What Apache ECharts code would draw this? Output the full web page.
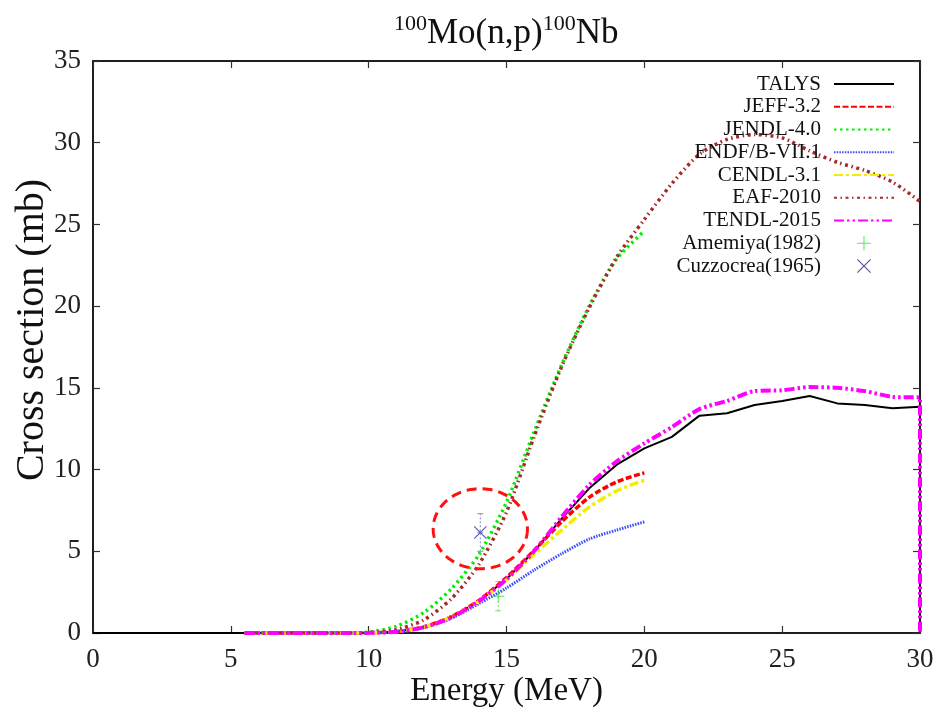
<!DOCTYPE html>
<html>
<head>
<meta charset="utf-8">
<script src="https://cdn.jsdelivr.net/npm/echarts@6/dist/echarts.min.js"></script>
<style>
  html, body { margin: 0; padding: 0; background: #fff; }
  #chart { width: 938px; height: 711px; }
</style>
</head>
<body>
<div id="chart"></div>
<script>
// ---------------- data ----------------
const xTicks = [0, 5, 10, 15, 20, 25, 30];
const yTicks = [0, 5, 10, 15, 20, 25, 30, 35];

const lineNames = ['TALYS', 'JEFF-3.2', 'JENDL-4.0', 'ENDF/B-VII.1', 'CENDL-3.1', 'EAF-2010', 'TENDL-2015'];
const pointNames = ['Amemiya(1982)', 'Cuzzocrea(1965)'];

const talysE  = [0, 1, 2, 3, 4, 5, 6, 7, 8, 9, 10, 11, 12, 13, 14, 15, 16, 17, 18, 19, 20, 21, 22, 23, 24, 25, 26, 27, 28, 29, 30];
const talysXS = [0, 0, 0, 0, 0, 0, 0, 0, 0, 0, 0.01, 0.08, 0.35, 0.95, 1.95, 3.3, 5.0, 7.0, 8.85, 10.3, 11.3, 12.0, 13.3, 13.45, 13.95, 14.2, 14.5, 14.05, 13.95, 13.75, 13.85];

const evalE20 = [5.5, 6, 7, 8, 9, 10, 11, 12, 13, 14, 15, 16, 17, 18, 19, 20];
const jeffXS  = [0, 0, 0, 0, 0, 0.01, 0.08, 0.38, 1.0, 2.0, 3.4, 5.05, 6.8, 8.3, 9.25, 9.8];
const jendlXS = [0, 0, 0, 0, 0, 0.05, 0.4, 1.25, 2.7, 4.8, 8.0, 12.3, 16.4, 20.0, 22.9, 24.6];
const endfXS  = [0, 0, 0, 0, 0, 0.01, 0.06, 0.32, 0.9, 1.8, 2.75, 3.85, 4.85, 5.75, 6.3, 6.8];
const cendlXS = [0, 0, 0, 0, 0, 0.01, 0.07, 0.36, 1.0, 1.95, 3.25, 4.8, 6.3, 7.7, 8.7, 9.35];

const evalE30 = [5.5, 6, 7, 8, 9, 10, 11, 12, 13, 14, 15, 16, 17, 18, 19, 20, 21, 22, 23, 24, 25, 26, 27, 28, 29, 30];
const eafXS   = [0, 0, 0, 0, 0, 0.02, 0.2, 0.8, 2.1, 4.2, 7.4, 12.0, 16.3, 19.9, 23.0, 25.3, 27.5, 29.3, 30.2, 30.5, 30.3, 29.5, 28.8, 28.3, 27.6, 26.4];

const tendlE  = [5.5, 6, 7, 8, 9, 10, 11, 12, 13, 14, 15, 16, 17, 18, 19, 20, 21, 22, 23, 24, 25, 26, 27, 28, 29, 30, 30];
const tendlXS = [0, 0, 0, 0, 0, 0.01, 0.07, 0.35, 0.95, 1.95, 3.3, 5.0, 7.1, 9.05, 10.5, 11.6, 12.6, 13.7, 14.2, 14.8, 14.85, 15.05, 15.0, 14.8, 14.45, 14.4, 0];

// experimental points: energy, cross section, d(xs), d(E)
const amemiyaE = [14.7];
const amemiyaXS = [2.25];
const amemiyaErr = [0.9];
const amemiyaEErr = [0.15];

const cuzzoE = [14.05];
const cuzzoXS = [6.15];
const cuzzoErr = [1.15];
const cuzzoEErr = [0.1];

// highlight ellipse annotation (data units): centre E, centre XS, half-width E, half-height XS
const ringCentre = [14.05, 6.38];
const ringRadii = [1.71, 2.45];

// ---------------- build ----------------
const zip = (a, b) => a.map((v, i) => [v, b[i]]);
const serif = '"Liberation Serif", "Times New Roman", serif';

const plusPath = 'path://M4.6,0H5.4V4.6H10V5.4H5.4V10H4.6V5.4H0V4.6H4.6Z';
const crossPath = 'path://M0,0.6L0.6,0L5,4.4L9.4,0L10,0.6L5.6,5L10,9.4L9.4,10L5,5.6L0.6,10L0,9.4L4.4,5Z';

function lineSeries(name, e, xs, color, width, dash, smooth) {
  return {
    name: name, type: 'line', data: zip(e, xs),
    showSymbol: false, symbol: 'none', smooth: smooth,
    lineStyle: { color: color, width: width, type: dash, cap: 'butt' },
    itemStyle: { color: color },
    emphasis: { disabled: true }, animation: false
  };
}

function errRender(params, api) {
  const x = api.value(0), y = api.value(1), ey = api.value(2), ex = api.value(3);
  const lo = api.coord([x, y - ey]), hi = api.coord([x, y + ey]);
  const l = api.coord([x - ex, y]), r = api.coord([x + ex, y]);
  const st = { stroke: api.visual('color'), lineWidth: 1, lineDash: [2, 2] };
  return {
    type: 'group',
    children: [
      { type: 'line', shape: { x1: lo[0], y1: lo[1], x2: hi[0], y2: hi[1] }, style: st },
      { type: 'line', shape: { x1: l[0], y1: l[1], x2: r[0], y2: r[1] }, style: st },
      { type: 'line', shape: { x1: lo[0] - 3, y1: lo[1], x2: lo[0] + 3, y2: lo[1] }, style: { stroke: st.stroke, lineWidth: 1 } },
      { type: 'line', shape: { x1: hi[0] - 3, y1: hi[1], x2: hi[0] + 3, y2: hi[1] }, style: { stroke: st.stroke, lineWidth: 1 } }
    ]
  };
}

function ringRender(params, api) {
  const c = api.coord([api.value(0), api.value(1)]);
  const rx = api.size([api.value(2), 0])[0];
  const ry = api.size([0, api.value(3)])[1];
  const pts = [];
  for (let i = 0; i < 120; i++) {
    const t = i / 120 * Math.PI * 2;
    pts.push([c[0] + rx * Math.cos(t), c[1] + ry * Math.sin(t)]);
  }
  return {
    type: 'polygon', shape: { points: pts },
    style: { fill: 'none', stroke: '#ff1010', lineWidth: 3, lineDash: [10, 6] }
  };
}

const axisCommon = {
  type: 'value',
  splitLine: { show: false },
  axisLine: { show: true, onZero: false, lineStyle: { color: '#111', width: 1.5 } },
  axisTick: { show: true, inside: true, length: 7, lineStyle: { color: '#333', width: 1.2 } }
};

const legendData = lineNames.map(n => ({ name: n, itemStyle: { opacity: 0 } }))
  .concat(pointNames.map(n => ({ name: n })));

const option = {
  backgroundColor: '#fff',
  animation: false,
  title: {
    text: '{sup|100}{main|Mo(n,p)}{sup|100}{main|Nb}',
    left: 389, top: 8,
    textStyle: {
      rich: {
        sup: { fontFamily: serif, fontWeight: 'normal', fontSize: 22, color: '#111', verticalAlign: 'top', lineHeight: 38 },
        main: { fontFamily: serif, fontWeight: 'normal', fontSize: 35, color: '#111', verticalAlign: 'bottom', lineHeight: 38 }
      }
    }
  },
  legend: {
    data: legendData,
    orient: 'vertical',
    right: 43, top: 73.5, padding: 0,
    align: 'right',
    itemWidth: 60, itemHeight: 14, itemGap: 1.75,
    selectedMode: false,
    textStyle: { fontFamily: serif, fontSize: 21, color: '#111', lineHeight: 21, padding: [0, 8, 0, 0] }
  },
  grid: { left: 93, right: 18, top: 61, bottom: 78, outerBoundsMode: 'none', containLabel: false, show: true, borderColor: '#111', borderWidth: 1.5, backgroundColor: 'transparent' },
  xAxis: [
    Object.assign({}, axisCommon, {
      min: xTicks[0], max: xTicks[xTicks.length - 1], interval: xTicks[1] - xTicks[0], position: 'bottom',
      axisLabel: { fontFamily: serif, fontSize: 27, color: '#222', margin: 13 },
      name: 'Energy (MeV)', nameLocation: 'middle', nameGap: 42, nameMoveOverlap: false,
      nameTextStyle: { fontFamily: serif, fontSize: 33, color: '#111' }
    }),
    Object.assign({}, axisCommon, {
      min: xTicks[0], max: xTicks[xTicks.length - 1], interval: xTicks[1] - xTicks[0], position: 'top',
      axisLabel: { show: false }
    })
  ],
  yAxis: [
    Object.assign({}, axisCommon, {
      min: yTicks[0], max: yTicks[yTicks.length - 1], interval: yTicks[1] - yTicks[0], position: 'left',
      axisLabel: { fontFamily: serif, fontSize: 27, color: '#222', margin: 12 },
      name: 'Cross section (mb)', nameLocation: 'middle', nameGap: 41, nameRotate: 90, nameMoveOverlap: false,
      nameTextStyle: { fontFamily: serif, fontSize: 40, color: '#111', padding: [0, 0, 0, 34] }
    }),
    Object.assign({}, axisCommon, {
      min: yTicks[0], max: yTicks[yTicks.length - 1], interval: yTicks[1] - yTicks[0], position: 'right',
      axisLabel: { show: false }
    })
  ],
  series: [
    lineSeries('TALYS', talysE, talysXS, '#000000', 2, 'solid', false),
    lineSeries('JEFF-3.2', evalE20, jeffXS, '#ff0000', 3.5, [6, 2.5], 0.25),
    lineSeries('JENDL-4.0', evalE20, jendlXS, '#00ee00', 3.5, [2.5, 3.5], 0.25),
    lineSeries('ENDF/B-VII.1', evalE20, endfXS, '#3a4dff', 3, [1.5, 1.2], 0.25),
    lineSeries('CENDL-3.1', evalE20, cendlXS, '#f2ee00', 3.5, [9, 3, 3, 3], 0.25),
    lineSeries('EAF-2010', evalE30, eafXS, '#a52a2a', 3.5, [3, 3.5, 1.5, 3.5], 0.25),
    lineSeries('TENDL-2015', tendlE, tendlXS, '#ff00ff', 4, [10, 3, 2.5, 3, 2.5, 3], 0.25),
    {
      type: 'custom', name: 'amemiyaErr', renderItem: errRender,
      data: amemiyaE.map((e, i) => [e, amemiyaXS[i], amemiyaErr[i], amemiyaEErr[i]]),
      encode: { x: 0, y: 1 }, itemStyle: { color: '#7ae07a' }, silent: true, z: 3
    },
    {
      type: 'custom', name: 'cuzzoErr', renderItem: errRender,
      data: cuzzoE.map((e, i) => [e, cuzzoXS[i], cuzzoErr[i], cuzzoEErr[i]]),
      encode: { x: 0, y: 1 }, itemStyle: { color: '#8a8ad0' }, silent: true, z: 3
    },
    {
      name: pointNames[0], type: 'scatter', data: zip(amemiyaE, amemiyaXS),
      symbol: plusPath, symbolSize: 12, itemStyle: { color: '#40dd40' }, z: 4
    },
    {
      name: pointNames[1], type: 'scatter', data: zip(cuzzoE, cuzzoXS),
      symbol: crossPath, symbolSize: 13, itemStyle: { color: '#2a2a9a' }, z: 4
    },
    {
      type: 'custom', name: 'ring', renderItem: ringRender,
      data: [[ringCentre[0], ringCentre[1], ringRadii[0], ringRadii[1]]],
      encode: { x: 0, y: 1 }, silent: true, z: 5, clip: false
    }
  ]
};

const chart = echarts.init(document.getElementById('chart'), null, { renderer: 'canvas' });
chart.setOption(option);
</script>
</body>
</html>
